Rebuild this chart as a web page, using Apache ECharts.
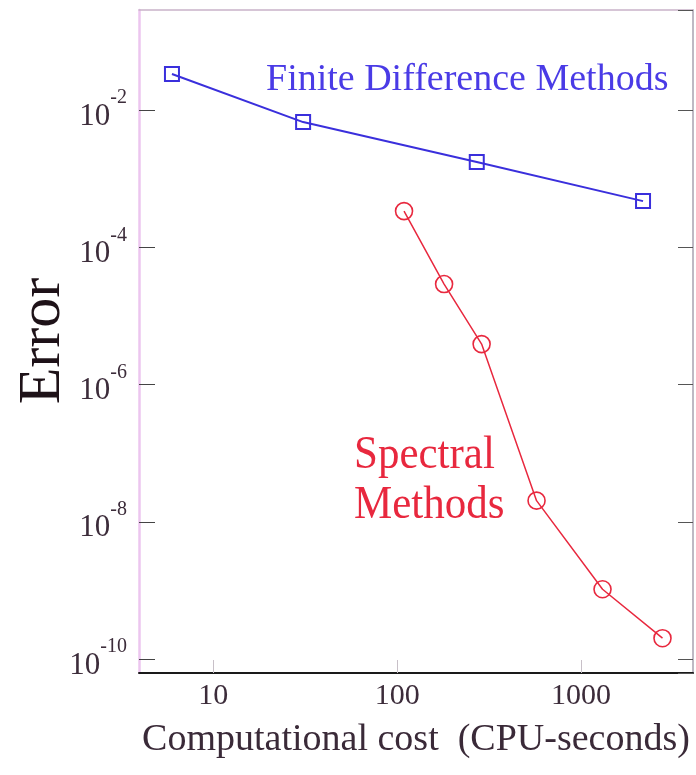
<!DOCTYPE html>
<html>
<head>
<meta charset="utf-8">
<script src="https://cdn.jsdelivr.net/npm/echarts@6/dist/echarts.min.js"></script>
<style>
html,body{margin:0;padding:0;background:#fff;}
#chart{width:696px;height:775px;}
</style>
</head>
<body>
<div id="chart"></div>
<script>
// Finite difference methods (blue squares)
var fdCost  = [5.96, 30.8, 271, 2174];
var fdError = [3.35e-2, 6.68e-3, 1.75e-3, 4.71e-4];
// Spectral methods (red circles)
var spCost  = [109, 180, 288, 573, 1309, 2774];
var spError = [3.37e-4, 2.91e-5, 3.88e-6, 2.03e-8, 1.04e-9, 2.01e-10];

var xTitle = 'Computational cost  (CPU-seconds)';
var yTitle = 'Error';
var fdLabel = 'Finite Difference Methods';
var spLabel = ['Spectral', 'Methods'];

var xMin = Math.pow(10, 0.596), xMax = Math.pow(10, 3.609);
var yMin = Math.pow(10, -10.204), yMax = Math.pow(10, -0.542);

var SERIF = '"Liberation Serif", "DejaVu Serif", serif';
var BLUE = '#3a2fdc';
var BLUE_TXT = '#4a3be6';
var RED = '#e8283e';
var LABEL = '#3c2c3a';

function pair(xs, ys) { return xs.map(function (x, i) { return [x, ys[i]]; }); }

function yFmt(v) {
  var e = Math.log10(v), r = Math.round(e);
  if (Math.abs(e - r) > 1e-6) return '';
  return '{b|10}{s|' + r + '}';
}
function xFmt(v) {
  var e = Math.log10(v), r = Math.round(e);
  if (Math.abs(e - r) > 1e-6) return '';
  return String(Math.round(v));
}

var chart = echarts.init(document.getElementById('chart'), null, {renderer: 'canvas'});
chart.setOption({
  animation: false,
  backgroundColor: '#fff',
  grid: {left: 139, right: 3, top: 10, bottom: 102, containLabel: false},
  xAxis: [{
    type: 'log', min: xMin, max: xMax, logBase: 10,
    position: 'bottom',
    axisLine: {show: true, lineStyle: {color: '#1a1a1a', width: 2}},
    axisTick: {show: true, inside: true, length: 13, lineStyle: {color: '#c8c0c8', width: 1}},
    axisLabel: {show: true, formatter: xFmt, fontFamily: SERIF, fontSize: 30, color: LABEL, margin: 8, showMinLabel: false, showMaxLabel: false},
    splitLine: {show: false},
    minorTick: {show: false},
    name: xTitle, nameLocation: 'middle', nameGap: 48,
    nameTextStyle: {fontFamily: SERIF, fontSize: 38, color: '#3a2a38'}
  }, {
    type: 'log', min: xMin, max: xMax, logBase: 10,
    position: 'top',
    axisLine: {show: true, lineStyle: {color: '#c9b3c9', width: 1.5}},
    axisTick: {show: false}, axisLabel: {show: false}, splitLine: {show: false}
  }],
  yAxis: [{
    type: 'log', min: yMin, max: yMax, logBase: 100,
    position: 'left',
    axisLine: {show: true, lineStyle: {color: '#ecc6ef', width: 2.5}},
    axisTick: {show: true, inside: true, length: 16, lineStyle: {color: '#444', width: 1}},
    axisLabel: {
      show: true, formatter: yFmt, margin: 12, showMinLabel: false, showMaxLabel: false,
      rich: {
        b: {fontFamily: SERIF, fontSize: 31, lineHeight: 31, color: LABEL, verticalAlign: 'bottom'},
        s: {fontFamily: SERIF, fontSize: 20, color: LABEL, verticalAlign: 'top', padding: [0, 0, 24, 0]}
      }
    },
    splitLine: {show: false}
  }, {
    type: 'log', min: yMin, max: yMax, logBase: 100,
    position: 'right',
    axisLine: {show: true, lineStyle: {color: '#a9a2b0', width: 1.5}},
    axisTick: {show: true, inside: true, length: 15, lineStyle: {color: '#555', width: 1}},
    axisLabel: {show: false}, splitLine: {show: false}
  }],
  graphic: [
    {type: 'text', x: 43, y: 341, rotation: Math.PI / 2,
     style: {text: yTitle, fontFamily: SERIF, fontSize: 60, fill: '#1e1218', align: 'center', verticalAlign: 'middle'}},
    {type: 'text', x: 266, y: 80,
     style: {text: fdLabel, fontFamily: SERIF, fontSize: 38, fill: BLUE_TXT, align: 'left', verticalAlign: 'middle'}},
    {type: 'text', x: 354, y: 456, scaleY: 1.1,
     style: {text: spLabel[0], fontFamily: SERIF, fontSize: 43, fill: RED, align: 'left', verticalAlign: 'middle'}},
    {type: 'text', x: 354, y: 506, scaleY: 1.1,
     style: {text: spLabel[1], fontFamily: SERIF, fontSize: 43, fill: RED, align: 'left', verticalAlign: 'middle'}}
  ],
  series: [{
    type: 'line', name: fdLabel, xAxisIndex: 0, yAxisIndex: 0,
    data: pair(fdCost, fdError),
    symbol: 'rect', symbolSize: 14,
    lineStyle: {color: BLUE, width: 2},
    itemStyle: {color: 'rgba(255,255,255,0)', borderColor: BLUE, borderWidth: 2},
    z: 3
  }, {
    type: 'line', name: spLabel.join(' '), xAxisIndex: 0, yAxisIndex: 0,
    data: pair(spCost, spError),
    symbol: 'circle', symbolSize: 17,
    lineStyle: {color: RED, width: 1.5},
    itemStyle: {color: 'rgba(255,255,255,0)', borderColor: RED, borderWidth: 1.6},
    z: 3
  }]
});
</script>
</body>
</html>
